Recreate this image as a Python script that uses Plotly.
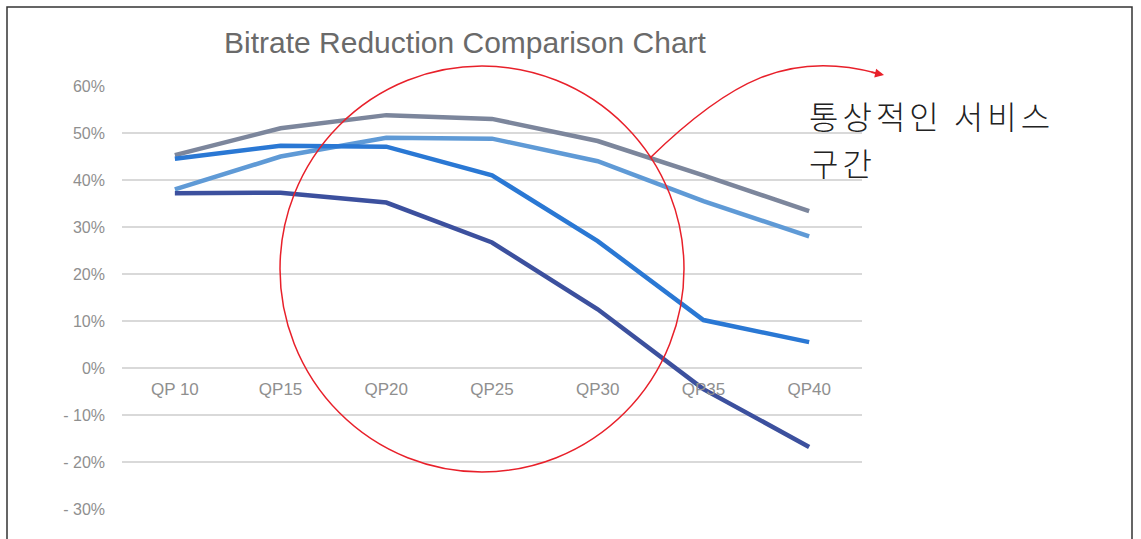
import plotly.graph_objects as go

categories = ["QP 10", "QP15", "QP20", "QP25", "QP30", "QP35", "QP40"]
series_gray = [0.453, 0.510, 0.538, 0.530, 0.483, 0.410, 0.334]
series_light = [0.380, 0.450, 0.490, 0.488, 0.440, 0.355, 0.280]
series_mid = [0.445, 0.473, 0.471, 0.410, 0.270, 0.102, 0.055]
series_dark = [0.372, 0.373, 0.352, 0.267, 0.125, -0.045, -0.168]
series_colors = ["#7c869c", "#5f9ad6", "#2a78d4", "#3c509e"]

y_tickvals = [0.6, 0.5, 0.4, 0.3, 0.2, 0.1, 0.0, -0.1, -0.2, -0.3]
y_ticktext = ["60%", "50%", "40%", "30%", "20%", "10%", "0%", "- 10%", "- 20%", "- 30%"]

title_text = "Bitrate Reduction Comparison Chart"
note_lines = ["통상적인 서비스", "구간"]

W, H = 1141, 539
L, R, T, B = 122, 862, 86, 509


def px(x):
    return (x - L) / (R - L)


def py(y):
    return (B - y) / (B - T)


fig = go.Figure()
for vals, col in zip([series_gray, series_light, series_mid, series_dark], series_colors):
    fig.add_trace(go.Scatter(x=categories, y=vals, mode="lines",
                             line=dict(color=col, width=4.5), showlegend=False))

fig.update_layout(
    width=W, height=H,
    margin=dict(l=L, r=W - R, t=T, b=H - B),
    paper_bgcolor="white", plot_bgcolor="white",
    font=dict(family="Liberation Sans, Arial, sans-serif", color="#808080"),
    title=dict(text=title_text, x=px(465), xref="paper", xanchor="center",
               y=1 - 42 / H, yref="container", yanchor="middle",
               font=dict(size=30, color="#6a6a6a", family="Liberation Sans")),
    xaxis=dict(type="category", range=[-0.5, 6.5], showgrid=False, showline=False,
               zeroline=False, anchor="free", position=py(368), ticks="",
               tickfont=dict(size=17, color="#8f8f8f", family="Liberation Sans"),
               ticklabelstandoff=9),
    yaxis=dict(range=[-0.3, 0.6], tickvals=y_tickvals, ticktext=y_ticktext,
               showgrid=True, gridcolor="#d9d9d9", gridwidth=1.5,
               zeroline=True, zerolinecolor="#d9d9d9", zerolinewidth=1.5,
               showline=False, ticks="",
               tickfont=dict(size=16, color="#8f8f8f", family="Liberation Sans"),
               ticklabelstandoff=16),
)

# outer frame
fig.add_shape(type="rect", xref="paper", yref="paper",
              x0=px(7), x1=px(1132), y0=py(560), y1=py(7),
              line=dict(color="#333333", width=1.5), layer="below")

# red circle
fig.add_shape(type="circle", xref="paper", yref="paper",
              x0=px(280), x1=px(684), y0=py(472), y1=py(66),
              line=dict(color="#e8202a", width=1.5))

# curved arrow
fig.add_shape(type="path", xref="paper", yref="paper",
              path=f"M {px(650)},{py(158)} C {px(730)},{py(80)} {px(790)},{py(50)} {px(876)},{py(73)}",
              line=dict(color="#e8202a", width=1.5))
fig.add_annotation(x=px(884), y=py(75), xref="paper", yref="paper",
                   ax=-14, ay=-3, text="", showarrow=True,
                   arrowhead=2, arrowsize=1.2, arrowwidth=1.5, arrowcolor="#e8202a")

for line_text, yc in zip(note_lines, [115, 162]):
    fig.add_annotation(x=px(807), y=py(yc), xref="paper", yref="paper",
                       xanchor="left", yanchor="middle", align="left", showarrow=False,
                       text=f'<span style="letter-spacing:4px">{line_text}</span>',
                       font=dict(size=32, color="#222222", family="Noto Sans CJK KR", weight=300))

fig.write_html("out.html", config={"displayModeBar": False},
               post_script="document.body.style.margin='0';document.body.style.overflow='hidden';")
